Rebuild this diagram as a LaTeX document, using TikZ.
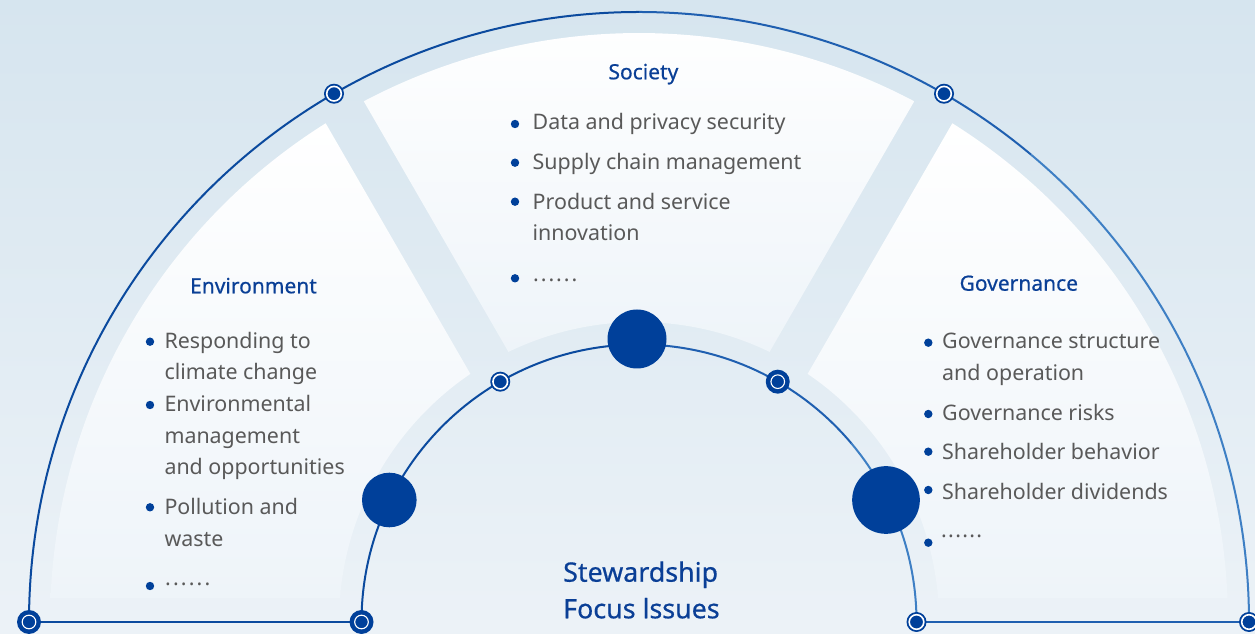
\documentclass[tikz,border=0pt]{standalone}
\usepackage{fontspec}
\setmainfont{Noto Sans}
\newfontfamily\ttlfont[FakeBold=0.6]{Noto Sans}
\definecolor{dk}{HTML}{00409A}
\definecolor{lnA}{HTML}{0B4A9E}
\definecolor{lnB}{HTML}{1F5FB0}
\definecolor{lnC}{HTML}{3E7FC4}
\definecolor{txt}{HTML}{595959}
\definecolor{ttlc}{HTML}{0A3F96}
\definecolor{bgtop}{HTML}{D6E5EF}
\definecolor{bgbot}{HTML}{ECF2F7}
\definecolor{pbot}{HTML}{EEF4F9}
\begin{document}
\begin{tikzpicture}[x=1pt,y=1pt,
  body/.style={anchor=base west, inner sep=0, text=txt, font=\fontsize{21.4}{26}\selectfont},
  ttl/.style={anchor=base, inner sep=0, text=ttlc, font=\ttlfont\fontsize{21}{26}\selectfont},
  mka/.style={circle, fill=dk, minimum size=20pt, inner sep=0,
    path picture={\draw[white,line width=1.6pt] (path picture bounding box.center) circle (7.3pt);}},
  mkb/.style={circle, fill=dk, minimum size=24pt, inner sep=0,
    path picture={\draw[white,line width=1.1pt] (path picture bounding box.center) circle (6.8pt);}},
  bigdot/.style={circle, fill=dk, inner sep=0},
  bul/.style={circle, fill=dk, minimum size=8.4pt, inner sep=0},
  arcl/.style={line width=2pt},
  panel/.style={top color=white, bottom color=pbot},
]
\useasboundingbox (0,0) rectangle (1255,634);
\shade[top color=bgtop, bottom color=bgbot] (0,0) rectangle (1255,634);

\begin{scope}[shift={(639,12)}]
  % panels
  \shade[panel] (117.86:589) arc[start angle=117.86, end angle=62.14, radius=589]
     -- (64.2:300) arc[start angle=64.2, end angle=115.8, radius=300] -- cycle;
  \shade[panel] (122.14:589) arc[start angle=122.14, end angle=177.66, radius=589]
     -- (175.41:300) arc[start angle=175.41, end angle=124.2, radius=300] -- cycle;
  \shade[panel] (57.86:589) arc[start angle=57.86, end angle=2.34, radius=589]
     -- (4.59:300) arc[start angle=4.59, end angle=55.8, radius=300] -- cycle;
  % named points
  \coordinate (oL) at (180:610);
  \coordinate (oT) at (90:610);
  \coordinate (oQ) at (50:610);
  \coordinate (oR) at (0:610);
  \coordinate (o1) at (120:610);
  \coordinate (o2) at (60:610);
  \coordinate (iL) at (180:277.5);
  \coordinate (iT) at (90:277.5);
  \coordinate (iQ) at (40:277.5);
  \coordinate (iR) at (0:277.5);
  \coordinate (i1) at (120:277.5);
  \coordinate (i2) at (60:277.5);
  % arcs
  \draw[arcl, lnA] (oL) arc[start angle=180, end angle=90, radius=610];
  \draw[arcl, lnB] (oT) arc[start angle=90, end angle=50, radius=610];
  \draw[arcl, lnC] (oQ) arc[start angle=50, end angle=0, radius=610];
  \draw[arcl, lnA] (iL) arc[start angle=180, end angle=90, radius=277.5];
  \draw[arcl, lnB] (iT) arc[start angle=90, end angle=40, radius=277.5];
  \draw[arcl, lnC] (iQ) arc[start angle=40, end angle=0, radius=277.5];
\end{scope}
\draw[arcl, lnA] (oL) -- (iL);
\draw[arcl, lnB] (iR) -- (oR);

% markers
\node[mka] (m1) at (o1) {};
\node[mka] (m2) at (o2) {};
\node[mka] (m3) at (i1) {};
\node[mkb] (m4) at (i2) {};
\node[mkb] (m5) at (oL) {};
\node[mkb] (m6) at (iL) {};
\node[mka] (m7) at (iR) {};
\node[mka] (m8) at (oR) {};
\node[bigdot, minimum size=59pt] (bT) at (637,295) {};
\node[bigdot, minimum size=54.6pt] (bL) at (389.3,134) {};
\node[bigdot, minimum size=67.7pt] (bR) at (886,134) {};

% titles
\node[ttl] (tS) at (643.4,554.7) {Society};
\node[ttl] (tE) at (253.5,340.7) {Environment};
\node[ttl] (tG) at (1018.8,343.3) {Governance};
\node[anchor=base west, inner sep=0, text=ttlc, font=\ttlfont\fontsize{26.8}{30}\selectfont] (c1) at (563,52.3) {Stewardship};
\node[anchor=base west, inner sep=0, text=ttlc, font=\ttlfont\fontsize{26.8}{30}\selectfont] (c2) at (563,15.7) {Focus lssues};

% Society
\node[bul] (sb1) at (515,510) {};
\node[bul] (sb2) at (515,471.3) {};
\node[bul] (sb3) at (515,432.3) {};
\node[bul] (sb4) at (515,355.7) {};
\node[body] (s1) at (532.5,504) {Data and privacy security};
\node[body] (s2) at (532.5,464) {Supply chain management};
\node[body] (s3) at (532.5,424.7) {Product and service};
\node[body] (s4) at (532.5,393.3) {innovation};
\node[body] (s5) at (533,352.5) {\addfontfeature{LetterSpace=9}......};

% Environment
\node[bul] (eb1) at (150,292.3) {};
\node[bul] (eb2) at (150,229) {};
\node[bul] (eb3) at (150,126.7) {};
\node[bul] (eb4) at (150,48) {};
\node[body] (e1) at (164.3,285.7) {Responding to};
\node[body] (e2) at (164.3,254.7) {climate change};
\node[body] (e3) at (164.3,222.3) {Environmental};
\node[body] (e4) at (164.3,190.7) {management};
\node[body] (e5) at (164.3,159) {and opportunities};
\node[body] (e6) at (164.3,119) {Pollution and};
\node[body] (e7) at (164.3,87.3) {waste};
\node[body] (e8) at (165,48) {\addfontfeature{LetterSpace=10}......};

% Governance
\node[bul] (gb1) at (928.3,291.3) {};
\node[bul] (gb2) at (928.3,220) {};
\node[bul] (gb3) at (928.3,182.3) {};
\node[bul] (gb4) at (928.3,144) {};
\node[bul] (gb5) at (928.3,91.3) {};
\node[body] (g1) at (942,285) {Governance structure};
\node[body] (g2) at (942,253.3) {and operation};
\node[body] (g3) at (942,213.3) {Governance risks};
\node[body] (g4) at (942,174.7) {Shareholder behavior};
\node[body] (g5) at (942,134.7) {Shareholder dividends};
\node[body] (g6) at (941,96) {\addfontfeature{LetterSpace=6}......};
\end{tikzpicture}
\end{document}
